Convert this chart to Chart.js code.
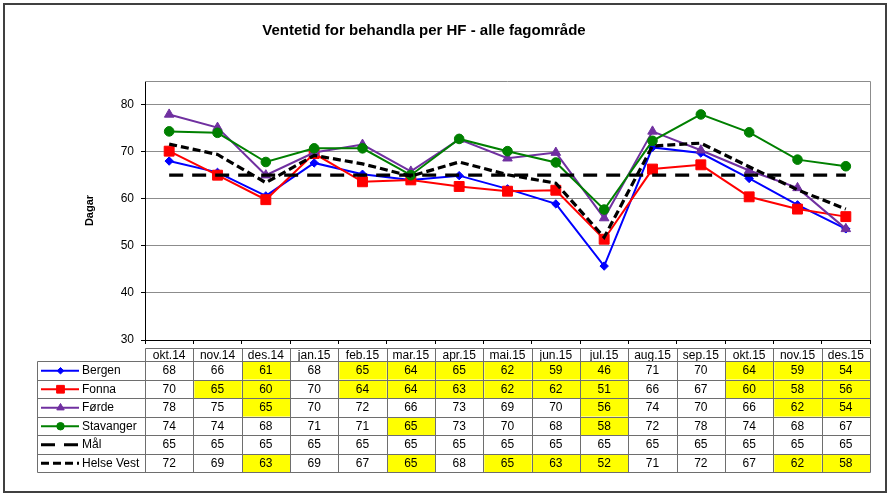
<!DOCTYPE html>
<html>
<head>
<meta charset="utf-8">
<script src="https://cdn.jsdelivr.net/npm/chart.js@4"></script>
<style>
  html, body { margin: 0; padding: 0; background: #ffffff; }
  canvas { display: block; }
</style>
</head>
<body>
<canvas id="c" width="890" height="498"></canvas>
<script>
// ---- data ----
const categories = ['okt.14','nov.14','des.14','jan.15','feb.15','mar.15','apr.15','mai.15','jun.15','jul.15','aug.15','sep.15','okt.15','nov.15','des.15'];
const bergen    = [68.0, 65.6, 60.6, 67.6, 65.2, 64.0, 64.9, 62.1, 58.9, 45.7, 70.9, 69.7, 64.3, 58.7, 53.6];
const fonna     = [70.1, 65.0, 59.8, 69.6, 63.6, 64.0, 62.6, 61.6, 61.8, 51.4, 66.3, 67.2, 60.4, 57.8, 56.2];
const forde     = [77.9, 75.1, 65.0, 69.8, 71.5, 65.8, 72.6, 68.6, 69.8, 55.9, 74.3, 70.3, 66.0, 62.3, 53.6];
const stavanger = [74.3, 74.0, 67.8, 70.7, 70.7, 65.0, 72.7, 70.1, 67.7, 57.7, 72.3, 77.9, 74.1, 68.3, 66.9];
const maal      = [65, 65, 65, 65, 65, 65, 65, 65, 65, 65, 65, 65, 65, 65, 65];
const helseVest = [71.6, 69.4, 63.4, 69.2, 67.4, 64.8, 67.8, 65.1, 63.3, 51.8, 71.2, 71.8, 66.8, 61.9, 57.8];
const yTickValues = [30, 40, 50, 60, 70, 80];

Chart.defaults.font.family = '"Liberation Sans", Arial, sans-serif';
Chart.defaults.color = '#000000';

const datasets = [
  { label: 'Bergen', data: bergen, borderColor: '#0000ff', backgroundColor: '#0000ff',
    borderWidth: 2, pointStyle: 'rectRot', pointRadius: 4.2, pointBorderWidth: 1, order: 6 },
  { label: 'Fonna', data: fonna, borderColor: '#ff0000', backgroundColor: '#ff0000',
    borderWidth: 2, pointStyle: 'rect', pointRadius: 7, pointBorderWidth: 1, order: 5 },
  { label: 'Førde', data: forde, borderColor: '#7030a0', backgroundColor: '#7030a0',
    borderWidth: 2, pointStyle: 'triangle', pointRadius: 5.5, pointBorderWidth: 1, order: 4 },
  { label: 'Stavanger', data: stavanger, borderColor: '#008000', backgroundColor: '#008000',
    borderWidth: 2, pointStyle: 'circle', pointRadius: 4.8, pointBorderWidth: 1, order: 3 },
  { label: 'Mål', data: maal, borderColor: '#000000', backgroundColor: '#000000',
    borderWidth: 3.2, borderDash: [14, 9], pointRadius: 0, order: 2, isTarget: true },
  { label: 'Helse Vest', data: helseVest, borderColor: '#000000', backgroundColor: '#000000',
    borderWidth: 3.2, borderDash: [8, 4], pointRadius: 0, order: 1 }
];

const TABLE = { headerTop: 348, headerBottom: 361, rowH: 18.5, legendLeft: 37 };

const framePlugin = {
  id: 'frame',
  beforeDraw(chart) {
    const ctx = chart.ctx;
    ctx.save();
    ctx.fillStyle = '#ffffff';
    ctx.fillRect(0, 0, chart.width, chart.height);
    ctx.restore();
  },
  afterLayout(chart) {
    if (chart.titleBlock) { chart.titleBlock.left = 0; chart.titleBlock.right = 848; }
  },
  beforeDatasetsDraw(chart) {
    const ctx = chart.ctx, a = chart.chartArea;
    ctx.save();
    ctx.strokeStyle = '#8c8c8c';
    ctx.lineWidth = 1;
    ctx.beginPath();
    ctx.moveTo(Math.round(a.left), Math.round(a.top) + 0.5);
    ctx.lineTo(Math.round(a.right) + 0.5, Math.round(a.top) + 0.5);
    ctx.lineTo(Math.round(a.right) + 0.5, Math.round(a.bottom));
    ctx.stroke();
    ctx.restore();
  }
};

const tablePlugin = {
  id: 'dataTable',
  afterDraw(chart) {
    const ctx = chart.ctx;
    const xs = chart.scales.x;
    const n = categories.length;
    const half = (xs.getPixelForValue(1) - xs.getPixelForValue(0)) / 2;
    const edges = [];
    for (let i = 0; i < n; i++) edges.push(xs.getPixelForValue(i) - half);
    edges.push(xs.getPixelForValue(n - 1) + half);
    const dsList = chart.data.datasets;
    const rowsTop = TABLE.headerBottom;
    const rowsBottom = rowsTop + dsList.length * TABLE.rowH;

    ctx.save();
    // highlighted cells
    dsList.forEach((ds, r) => {
      if (ds.isTarget) return;
      const y0 = rowsTop + r * TABLE.rowH;
      ds.data.forEach((v, i) => {
        if (Math.round(v) <= Math.round(maal[i])) {
          ctx.fillStyle = '#ffff00';
          ctx.fillRect(edges[i] + 1, y0 + 1, edges[i + 1] - edges[i] - 1, TABLE.rowH - 1);
        }
      });
    });

    // grid lines
    ctx.strokeStyle = '#6e6e6e';
    ctx.lineWidth = 1;
    ctx.beginPath();
    const px = v => Math.round(v) + 0.5;
    ctx.moveTo(px(edges[0]), px(TABLE.headerTop));
    ctx.lineTo(px(edges[n]), px(TABLE.headerTop));
    for (let r = 0; r <= dsList.length; r++) {
      const y = px(rowsTop + r * TABLE.rowH);
      ctx.moveTo(px(TABLE.legendLeft), y);
      ctx.lineTo(px(edges[n]), y);
    }
    ctx.moveTo(px(TABLE.legendLeft), px(rowsTop));
    ctx.lineTo(px(TABLE.legendLeft), px(rowsBottom));
    for (let i = 0; i <= n; i++) {
      ctx.moveTo(px(edges[i]), px(TABLE.headerTop));
      ctx.lineTo(px(edges[i]), px(rowsBottom));
    }
    ctx.stroke();

    // values
    ctx.fillStyle = '#000000';
    ctx.font = '12px "Liberation Sans", Arial, sans-serif';
    ctx.textAlign = 'center';
    ctx.textBaseline = 'middle';
    dsList.forEach((ds, r) => {
      const yc = rowsTop + r * TABLE.rowH + TABLE.rowH / 2 + 0.5;
      ds.data.forEach((v, i) => {
        ctx.fillText(String(Math.round(v)), (edges[i] + edges[i + 1]) / 2, yc);
      });
    });

    // legend keys
    dsList.forEach((ds, r) => {
      const yc = rowsTop + r * TABLE.rowH + TABLE.rowH / 2 + 0.5;
      ctx.save();
      ctx.strokeStyle = ds.borderColor;
      ctx.lineWidth = ds.borderWidth;
      ctx.setLineDash(ds.borderDash || []);
      ctx.beginPath();
      ctx.moveTo(41, yc);
      ctx.lineTo(79, yc);
      ctx.stroke();
      ctx.setLineDash([]);
      if (ds.pointRadius > 0) {
        ctx.fillStyle = ds.backgroundColor;
        ctx.strokeStyle = ds.borderColor;
        ctx.lineWidth = 1;
        Chart.helpers.drawPoint(ctx, { pointStyle: ds.pointStyle, radius: ds.pointRadius * 0.78, rotation: 0, borderWidth: 1 }, 60.5, yc);
      }
      ctx.restore();
      ctx.fillStyle = '#000000';
      ctx.textAlign = 'left';
      ctx.fillText(ds.label, 82, yc);
    });

    // outer frame
    ctx.strokeStyle = '#404040';
    ctx.lineWidth = 2;
    ctx.strokeRect(4, 4, 882, 488);
    ctx.restore();
  }
};

new Chart(document.getElementById('c'), {
  type: 'line',
  data: { labels: categories, datasets: datasets },
  options: {
    responsive: false,
    animation: false,
    events: [],
    layout: { padding: { left: 4, right: 20, top: 0, bottom: 0 } },
    elements: { line: { tension: 0 } },
    plugins: {
      legend: { display: false },
      tooltip: { enabled: false },
      title: {
        display: true,
        text: 'Ventetid for behandla per HF - alle fagområde',
        color: '#000000',
        font: { size: 15, weight: 'bold' },
        padding: { top: 22, bottom: 41 }
      }
    },
    scales: {
      x: {
        offset: true,
        grid: { display: true, drawOnChartArea: false, drawTicks: true, tickLength: 4, offset: true, color: '#000000' },
        border: { display: true, color: '#000000', width: 1 },
        ticks: { autoSkip: false, maxRotation: 0, minRotation: 0, padding: 4, color: '#000000', font: { size: 12 } },
        afterFit(scale) { scale.height = 158; }
      },
      y: {
        min: 30,
        max: 85,
        grid: { color: '#8c8c8c', lineWidth: 1, drawTicks: true, tickLength: 4, tickColor: '#000000' },
        border: { display: true, color: '#000000', width: 1 },
        ticks: { stepSize: 10, includeBounds: false, padding: 7, color: '#000000', font: { size: 12 } },
        afterBuildTicks(scale) { scale.ticks = yTickValues.map(v => ({ value: v })); },
        title: { display: true, text: 'Dagar', color: '#000000', font: { size: 11, weight: 'bold' }, padding: { top: 79, bottom: 0 } },
        afterFit(scale) { scale.width = 141; }
      }
    }
  },
  plugins: [framePlugin, tablePlugin]
});
</script>
</body>
</html>
